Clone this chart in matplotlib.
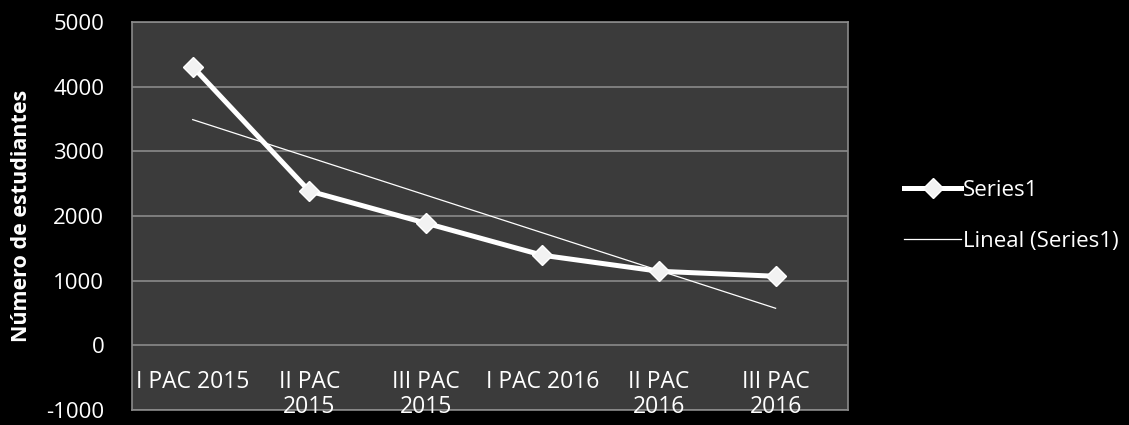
import matplotlib.pyplot as plt
import numpy as np

periodos = ["I PAC 2015", "II PAC\n2015", "III PAC\n2015", "I PAC 2016", "II PAC\n2016", "III PAC\n2016"]
estudiantes = [4310, 2388, 1891, 1395, 1147, 1070]
yticks = [-1000, 0, 1000, 2000, 3000, 4000, 5000]

plt.rcParams['font.family'] = ['Open Sans', 'DejaVu Sans']
plt.rcParams['axes.unicode_minus'] = False

x = np.arange(len(periodos))
coef = np.polyfit(x, estudiantes, 1)
tendencia = np.polyval(coef, x)

fig = plt.figure(figsize=(11.29, 4.25), dpi=100, facecolor="black")
ax = fig.add_axes([0.117, 0.035, 0.634, 0.913])
ax.set_facecolor("#3b3b3b")

ax.plot(x, estudiantes, color="white", lw=3.6, marker="D", ms=10,
        mfc="#f2f2f2", mec="white", label="Series1", zorder=3)
ax.plot(x, tendencia, color="white", lw=0.9, label="Lineal (Series1)", zorder=2)

ax.set_xlim(-0.52, 5.62)
ax.set_ylim(-1000, 5000)
ax.set_yticks(yticks)
ax.yaxis.grid(True, color="#8a8a8a", lw=1.2)
ax.set_axisbelow(True)
ax.set_xticks([])
ax.tick_params(axis="y", length=0, pad=20, labelsize=16, labelcolor="white")
for s in ax.spines.values():
    s.set_color("#8a8a8a")
    s.set_linewidth(1.2)

# etiquetas de categoria dentro del area, bajo la linea de cero
for i, lab in enumerate(periodos):
    ax.annotate(lab, (i, 0), xytext=(0, -18), textcoords="offset points",
                ha="center", va="top", color="white", fontsize=16.5,
                linespacing=1.05, annotation_clip=False)

ax.set_ylabel("Número de estudiantes", color="white", fontsize=15.5,
              fontweight="bold", labelpad=10)

leg = ax.legend(loc="center left", bbox_to_anchor=(1.05, 0.50), frameon=False,
                fontsize=16, labelcolor="white", handlelength=2.6,
                handletextpad=0.05, labelspacing=1.35)

fig.savefig("out.png", dpi=100, facecolor="black")
